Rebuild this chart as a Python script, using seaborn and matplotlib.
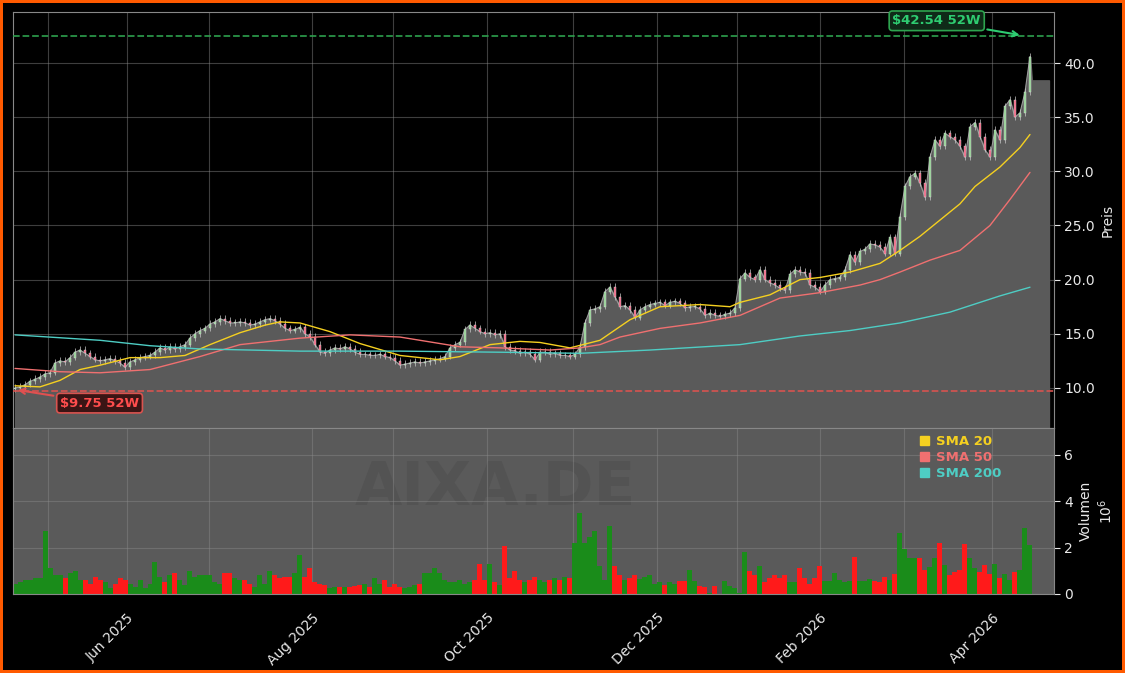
import matplotlib
matplotlib.use("Agg")
import matplotlib.pyplot as plt
from matplotlib.patches import Patch
import numpy as np
import pandas as pd
import seaborn as sns

sns.set_style("dark")
plt.rcParams['font.family'] = ['DejaVu Sans']

# daily closes (one session per slot)
closes = [
    10.0, 10.1, 10.3, 10.6, 10.8, 11.0, 11.3, 11.4, 12.3, 12.5,
    12.4, 12.8, 13.3, 13.5, 13.2, 12.9, 12.6, 12.5, 12.6, 12.7,
    12.5, 12.3, 11.9, 12.4, 12.6, 12.8, 12.9, 13.0, 13.3, 13.7,
    13.5, 13.8, 13.6, 13.8, 14.0, 14.6, 15.0, 15.3, 15.5, 15.9,
    16.1, 16.4, 16.2, 16.0, 16.0, 16.1, 16.0, 15.8, 15.9, 16.1,
    16.3, 16.4, 16.2, 15.9, 15.5, 15.3, 15.4, 15.6, 15.0, 14.7,
    14.0, 13.3, 13.2, 13.5, 13.7, 13.6, 13.8, 13.6, 13.3, 13.1,
    13.1, 13.0, 13.0, 13.1, 12.9, 12.8, 12.5, 12.1, 12.2, 12.3,
    12.4, 12.3, 12.4, 12.5, 12.6, 12.7, 12.9, 13.7, 14.0, 14.2,
    15.4, 15.8, 15.5, 15.2, 15.0, 15.1, 14.9, 15.0, 13.8, 13.5,
    13.4, 13.2, 13.3, 13.1, 12.6, 13.3, 13.3, 13.1, 13.2, 13.0,
    13.0, 12.9, 13.1, 13.8, 16.0, 17.2, 17.3, 17.5, 18.9, 19.3,
    18.4, 17.5, 17.6, 17.2, 16.5, 17.2, 17.5, 17.7, 17.8, 17.9,
    17.6, 17.9, 18.0, 17.8, 17.4, 17.5, 17.5, 17.3, 16.7, 16.9,
    16.7, 16.6, 16.8, 16.9, 17.4, 20.1, 20.6, 20.2, 20.0, 20.9,
    20.0, 19.7, 19.5, 19.2, 19.0, 20.5, 20.9, 20.7, 20.6, 19.5,
    19.3, 18.9, 19.5, 20.0, 20.1, 20.2, 20.9, 22.3, 21.6, 22.6,
    22.8, 23.3, 23.2, 23.0, 22.4, 23.9, 22.4, 25.8, 28.6, 29.5,
    29.8, 28.9, 27.6, 31.3, 32.9, 32.3, 33.5, 33.2, 32.9, 32.3,
    31.3, 34.1, 34.5, 33.2, 32.0, 31.3, 33.8, 32.9, 36.0, 36.6,
    35.0, 35.4, 37.3, 40.6,
]
first_open = 9.9
area_last = 38.4

# volume in millions
volume = [
    0.45, 0.5, 0.6, 0.6, 0.7, 0.7, 2.7, 1.1, 0.8, 0.8, 0.7, 0.9,
    1.0, 0.6, 0.6, 0.45, 0.75, 0.6, 0.5, 0.25, 0.45, 0.7, 0.6,
    0.45, 0.3, 0.6, 0.25, 0.45, 1.4, 0.75, 0.5, 0.8, 0.9, 0.6, 0.4,
    1.0, 0.75, 0.8, 0.8, 0.8, 0.5, 0.45, 0.9, 0.9, 0.7, 0.6,
    0.6, 0.45, 0.3, 0.8, 0.45, 1.0, 0.8, 0.7, 0.75, 0.75, 0.9, 1.7,
    0.75, 1.1, 0.5, 0.45, 0.4, 0.25, 0.3, 0.3, 0.3, 0.3, 0.35,
    0.4, 0.45, 0.3, 0.7, 0.45, 0.6, 0.3, 0.45, 0.3, 0.25, 0.3, 0.4,
    0.45, 0.9, 0.9, 1.1, 0.9, 0.6, 0.5, 0.5, 0.6, 0.45, 0.5,
    0.6, 1.3, 0.6, 1.3, 0.5, 0.4, 2.05, 0.7, 1.0, 0.6, 0.5,
    0.6, 0.75, 0.6, 0.5, 0.6, 0.7, 0.6, 0.75, 0.7, 2.2,
    3.5, 2.2, 2.45, 2.7, 1.2, 0.6, 2.95, 1.2, 0.8, 0.6,
    0.7, 0.8, 0.65, 0.75, 0.8, 0.45, 0.5, 0.4, 0.5, 0.45,
    0.55, 0.55, 1.05, 0.55, 0.35, 0.3, 0.05, 0.35, 0.0, 0.55,
    0.35, 0.25, 0.05, 1.8, 1.0, 0.8, 1.2, 0.5, 0.7, 0.8,
    0.7, 0.8, 0.5, 0.5, 1.1, 0.7, 0.45, 0.7, 1.2, 0.55,
    0.55, 0.9, 0.6, 0.5, 0.55, 1.6, 0.55, 0.55, 0.65, 0.55,
    0.5, 0.75, 0.6, 0.85, 2.65, 1.95, 1.55, 1.55, 1.55, 1.05,
    1.15, 1.55, 2.2, 1.25, 0.8, 0.95, 1.05, 2.15, 1.55, 1.1,
    0.95, 1.25, 0.85, 1.3, 0.7, 0.85, 0.6, 0.95, 1.05, 2.85,
    2.1,
]

# moving averages read at session positions
sma20_pos = [0, 5, 9, 13, 17, 23, 29, 34, 39, 45, 50, 53, 57, 63, 69, 77, 85, 89, 95,
             101, 105, 111, 117, 123, 129, 137, 143, 145, 151, 157, 161, 167, 173,
             177, 181, 185, 189, 192, 197, 201, 203]
sma20 = [10.2, 10.1, 10.7, 11.7, 12.1, 12.8, 12.8, 13.0, 14.0, 15.1, 15.8, 16.1, 16.0,
         15.2, 14.1, 13.0, 12.6, 12.9, 14.0, 14.3, 14.2, 13.7, 14.4, 16.3, 17.5, 17.7,
         17.5, 17.9, 18.6, 20.0, 20.2, 20.7, 21.5, 22.7, 24.0, 25.5, 27.0, 28.6,
         30.4, 32.2, 33.4]
sma50_pos = [0, 9, 17, 27, 37, 45, 53, 57, 67, 77, 85, 89, 97, 107, 113, 117, 121, 129,
             137, 145, 153, 161, 169, 173, 177, 183, 189, 195, 199, 203]
sma50 = [11.8, 11.5, 11.4, 11.7, 12.9, 14.0, 14.4, 14.6, 14.9, 14.7, 14.1, 13.8, 13.7,
         13.5, 13.7, 14.0, 14.7, 15.5, 16.0, 16.7, 18.3, 18.8, 19.5, 20.0, 20.7, 21.8,
         22.7, 25.0, 27.4, 29.9]
sma200_pos = [0, 17, 27, 37, 57, 77, 97, 113, 127, 145, 157, 167, 177, 187, 197, 203]
sma200 = [14.9, 14.4, 13.9, 13.6, 13.4, 13.4, 13.3, 13.2, 13.5, 14.0, 14.8, 15.3,
          16.0, 17.0, 18.5, 19.3]

low_52w = 9.75
high_52w = 42.54

month_pos = [6.6, 22.4, 38.8, 59.4, 75.6, 94.4, 111.6, 128.4, 144.4, 161, 177.8, 195.4]
month_labels = ['', 'Jun 2025', '', 'Aug 2025', '', 'Oct 2025', '', 'Dec 2025', '',
                'Feb 2026', '', 'Apr 2026']

n = min(len(closes), len(volume))
closes = np.array(closes[:n])
volume = np.array(volume[:n])
opens = np.concatenate([[first_open], closes[:-1]])
idx = np.arange(n)
up = closes >= opens

BG = '#000000'
PANEL = '#5a5a5a'
GRID = '#8a8a8a'
TXT = '#e8e8e8'

fig = plt.figure(figsize=(11.25, 6.73), dpi=100, facecolor=BG)
fig.patch.set_edgecolor('#ff5a00')
fig.patch.set_linewidth(4)
ax = fig.add_axes([0.01156, 0.364, 0.9253, 0.618])
axv = fig.add_axes([0.01156, 0.1174, 0.9253, 0.2467], sharex=ax)

ax.set_facecolor(BG)
axv.set_facecolor(PANEL)

# gray area under the closing price
fx = np.concatenate([idx, [n - 0.6, n + 2.8]])
fy = np.concatenate([closes, [area_last, area_last]])
ax.fill_between(fx, 0, fy, color=PANEL, zorder=1)
ax.plot(idx, closes, color='#9a9a9a', lw=0.8, zorder=2)

# candles
body_lo = np.minimum(opens, closes)
body_hi = np.maximum(opens, closes)
for i in range(n):
    col = '#8fd18f' if up[i] else '#f0607e'
    ax.vlines(i, body_lo[i] - 0.25, body_hi[i] + 0.35, color='#c8c8c8', lw=0.5, zorder=3)
    h = max(body_hi[i] - body_lo[i], 0.06)
    ax.bar(i, h, bottom=body_lo[i], width=0.5, color=col, edgecolor='#dddddd',
           linewidth=0.3, zorder=4)

# moving averages
sns.lineplot(x=sma20_pos, y=sma20, ax=ax, color='#f5d020', lw=1.0, zorder=5)
sns.lineplot(x=sma50_pos, y=sma50, ax=ax, color='#f07070', lw=1.0, zorder=5)
sns.lineplot(x=sma200_pos, y=sma200, ax=ax, color='#4ecdc4', lw=1.0, zorder=5)

# 52 week high / low
ax.axhline(low_52w, color='#d9534f', ls='--', lw=1.3, alpha=0.9, zorder=6)
ax.axhline(high_52w, color='#2ea44f', ls='--', lw=1.3, alpha=0.9, zorder=6)
ax.annotate(f'${low_52w:.2f} 52W', xy=(0, low_52w + 0.1), xytext=(9.0, 8.6),
            color='#ff4d4d', fontsize=9.5, fontweight='bold', va='center',
            bbox=dict(boxstyle='round,pad=0.25', fc='#3a1515', ec='#d9534f', lw=1.2),
            arrowprops=dict(arrowstyle='->', color='#e05050', lw=1.5), zorder=8)
ax.annotate(f'${high_52w:.2f} 52W', xy=(201.5, high_52w), xytext=(175.5, 43.9),
            color='#2ecc71', fontsize=9.5, fontweight='bold', va='center',
            bbox=dict(boxstyle='round,pad=0.25', fc='#0f2a18', ec='#2ea44f', lw=1.2),
            arrowprops=dict(arrowstyle='->', color='#2ecc71', lw=1.5), zorder=8)

# volume bars
vcol = np.where(up, '#1a8c1a', '#ff1a1a')
axv.bar(idx, volume * 1e6, width=1.0, color=vcol, linewidth=0)
axv.text(96, 4.55e6, 'AIXA.DE', fontsize=44, fontweight='bold', color='#535353',
         ha='center', va='center', zorder=0)

axv.legend(handles=[Patch(color='#f5d020', label='SMA 20'),
                    Patch(color='#f07070', label='SMA 50'),
                    Patch(color='#4ecdc4', label='SMA 200')],
           loc='upper left', bbox_to_anchor=(0.86, 1.03), frameon=False,
           labelcolor=['#f5d020', '#f07070', '#4ecdc4'], handlelength=0.7,
           handleheight=0.7, handletextpad=0.5, labelspacing=0.25,
           prop={'weight': 'bold', 'size': 9.5})

for a in (ax, axv):
    a.yaxis.tick_right()
    a.yaxis.set_label_position('right')
    a.tick_params(colors=TXT, labelsize=10, length=4)
    a.grid(True, color=GRID, alpha=0.45, lw=0.8)
    for s in a.spines.values():
        s.set_color('#888888')
    a.set_xticks(month_pos)

ax.set_xlim(-0.4, 207.8)
ax.set_ylim(6.3, 44.7)
ax.set_yticks([10, 15, 20, 25, 30, 35, 40])
ax.set_yticklabels([f'{v:.1f}' for v in [10, 15, 20, 25, 30, 35, 40]])
ax.tick_params(axis='x', labelbottom=False, length=0)
ax.set_ylabel('Preis', color=TXT, fontsize=10)

axv.set_ylim(0, 7.16e6)
axv.set_yticks([0, 2e6, 4e6, 6e6])
axv.set_yticklabels(['0', '2', '4', '6'])
axv.set_ylabel('Volumen\n$10^6$', color=TXT, fontsize=10)
axv.set_xticklabels(month_labels, rotation=45, ha='right', rotation_mode='anchor')
axv.tick_params(axis='x', pad=8)

fig.savefig('out.png', dpi=100, facecolor=BG, edgecolor=fig.patch.get_edgecolor())
